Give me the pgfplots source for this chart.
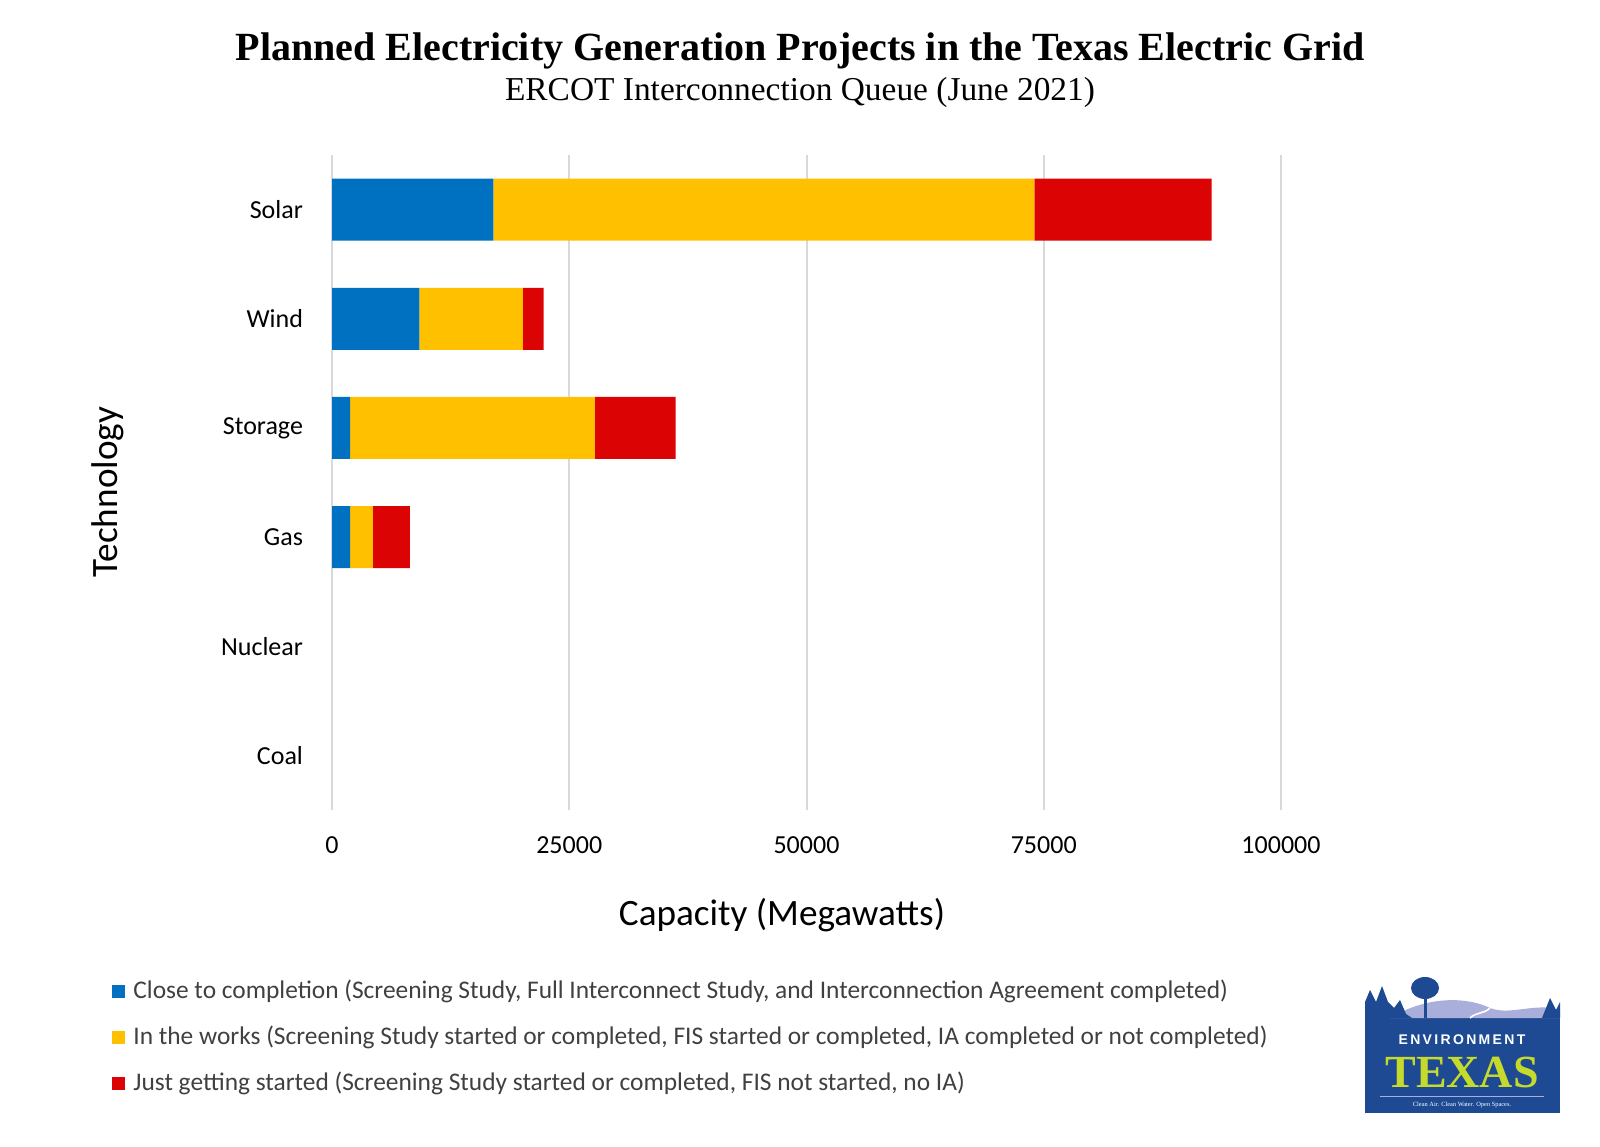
\documentclass[border=0pt]{standalone}
\usepackage{pgfplots}
\pgfplotsset{compat=1.18}
\usepackage{fontspec}
\setmainfont{Carlito}
\newfontfamily\titlefont{Liberation Serif}
\newfontfamily\logofont{Liberation Sans}

\definecolor{cblue}{HTML}{0070C0}
\definecolor{cgold}{HTML}{FFC000}
\definecolor{cred}{HTML}{DB0303}
\definecolor{gridgray}{HTML}{D9D9D9}
\definecolor{txtgray}{HTML}{404040}
\definecolor{logoblue}{HTML}{1D4A93}
\definecolor{logolav}{HTML}{A9AEDA}
\definecolor{logolime}{HTML}{C5DA2B}

\begin{document}
\begin{tikzpicture}
% page frame: 1600 x 1146 px at 0.5pt per px
\useasboundingbox (0pt,0pt) rectangle (800pt,573pt);

\begin{axis}[
    at={(166pt,168pt)}, anchor=south west,
    scale only axis,
    width=474.5pt, height=327.5pt,
    xbar stacked,
    bar width=31pt,
    xmin=0, xmax=100000,
    ymin=-0.5, ymax=5.5,
    y dir=reverse,
    ytick={0,1,2,3,4,5},
    yticklabels={Solar,Wind,Storage,Gas,Nuclear,Coal},
    xtick={0,25000,50000,75000,100000},
    scaled x ticks=false,
    xticklabel={\pgfmathprintnumber[fixed,1000 sep={}]{\tick}},
    /pgf/number format/assume math mode=true,
    xmajorgrids,
    grid style={gridgray, line width=1pt},
    axis line style={draw=none},
    major tick length=0pt,
    tick label style={font=\fontsize{13}{15}\selectfont, text=black},
    xticklabel style={yshift=-10pt},
    yticklabel style={xshift=-11pt},
    legend cell align=left,
    legend style={at={(axis description cs:-0.2318,-0.2528)}, anchor=north west,
        draw=none, fill=none, inner sep=0pt,
        font=\fontsize{12.7}{15}\selectfont, text=txtgray,
        /tikz/every even column/.append style={column sep=0pt},
        row sep=8.3pt},
    legend image code/.code={\fill[#1] (0pt,-3.5pt) rectangle (6.5pt,3pt); \path (8.5pt,0pt);},
]
% Close to completion
\addplot[fill=cblue, draw=none] coordinates {
    (17000,0) (9200,1) (1900,2) (1900,3) (0,4) (0,5)};
% In the works
\addplot[fill=cgold, draw=none] coordinates {
    (57000,0) (10900,1) (25800,2) (2400,3) (0,4) (0,5)};
% Just getting started
\addplot[fill=cred, draw=none] coordinates {
    (18700,0) (2200,1) (8500,2) (3900,3) (0,4) (0,5)};
\legend{{Close to completion (Screening Study, Full Interconnect Study, and Interconnection Agreement completed)},
        {In the works (Screening Study started or completed, FIS started or completed, IA completed or not completed)},
        {Just getting started (Screening Study started or completed, FIS not started, no IA)}}
\end{axis}

% titles and axis labels
\node[font=\titlefont\bfseries\fontsize{20}{23}\selectfont] at (400pt,547.5pt) {Planned Electricity Generation Projects in the Texas Electric Grid};
\node[font=\titlefont\fontsize{16.7}{19}\selectfont] at (400pt,527pt) {ERCOT Interconnection Queue (June 2021)};
\node[rotate=90, font=\fontsize{18.6}{21}\selectfont] at (54pt,327pt) {Technology};
\node[font=\fontsize{18.6}{21}\selectfont] at (391pt,115.5pt) {Capacity (Megawatts)};

% Environment Texas logo
\fill[logoblue] (682.5pt,16.5pt) rectangle (780pt,64pt);
\fill[logolav] (695pt,64pt) .. controls (715pt,76pt) and (735pt,74pt) .. (745pt,69pt)
    .. controls (755pt,65pt) and (768pt,72pt) .. (780pt,68pt) -- (780pt,64pt) -- cycle;
\fill[logoblue] (682.5pt,64pt) -- (682.5pt,72pt) -- (685pt,78pt) -- (688pt,72pt) -- (691pt,80pt)
    -- (694pt,72pt) -- (697pt,69pt) -- (700pt,73pt) -- (703pt,66pt) -- (706pt,64pt) -- cycle;
\fill[logoblue] (712pt,64pt) rectangle (713.5pt,74pt);
\fill[logoblue] (712.5pt,79pt) ellipse (7pt and 5.5pt);
\fill[logoblue] (771pt,64pt) -- (775pt,74pt) -- (778pt,68pt) -- (780pt,72pt) -- (780pt,64pt) -- cycle;
\draw[white, line width=0.8pt] (735pt,64pt) .. controls (738pt,67pt) and (742pt,66pt) .. (745pt,69pt);
\node[text=white, font=\logofont\bfseries\fontsize{7}{8}\selectfont] at (731pt,53pt) {E\,N\,V\,I\,R\,O\,N\,M\,E\,N\,T};
\node[text=logolime, font=\titlefont\bfseries\fontsize{23}{26}\selectfont] at (731pt,37pt) {TEXAS};
\draw[logolav, line width=0.4pt] (690pt,25pt) -- (772pt,25pt);
\node[text=white, font=\titlefont\fontsize{3.2}{4}\selectfont] at (731pt,20.5pt) {Clean Air. Clean Water. Open Spaces.};
\end{tikzpicture}
\end{document}
